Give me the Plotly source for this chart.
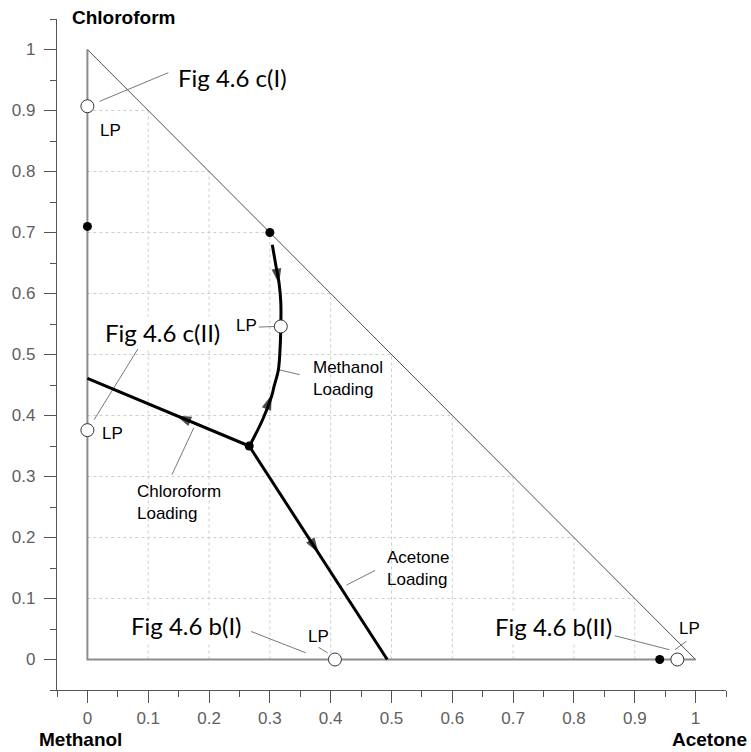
import plotly.graph_objects as go

# ---------------- data ----------------
tick_vals = [0, 0.1, 0.2, 0.3, 0.4, 0.5, 0.6, 0.7, 0.8, 0.9, 1.0]
tick_text = ["0", "0.1", "0.2", "0.3", "0.4", "0.5", "0.6", "0.7", "0.8", "0.9", "1"]
minor_vals = [-0.05, 0.05, 0.15, 0.25, 0.35, 0.45, 0.55, 0.65, 0.75, 0.85, 0.95, 1.05]
grid_vals = [0.1, 0.2, 0.3, 0.4, 0.5, 0.6, 0.7, 0.8, 0.9]

tri_x = [0, 1, 0]
tri_y = [0, 0, 1]

chloro_x = [0.266, 0.0]
chloro_y = [0.350, 0.461]
acetone_x = [0.266, 0.493]
acetone_y = [0.350, 0.0]
methanol_x = [0.304, 0.310, 0.315, 0.318, 0.318, 0.317, 0.314, 0.307, 0.303, 0.288, 0.266]
methanol_y = [0.680, 0.645, 0.618, 0.585, 0.546, 0.514, 0.475, 0.448, 0.432, 0.393, 0.349]

# arrow heads: (from point, to point) giving direction
arrows = [
    ((0.170, 0.390), (0.146, 0.400)),
    ((0.360, 0.206), (0.380, 0.175)),
    ((0.310, 0.645), (0.315, 0.616)),
    ((0.288, 0.393), (0.303, 0.434)),
]

filled_x = [0.0, 0.300, 0.266, 0.941]
filled_y = [0.710, 0.700, 0.350, 0.0]
open_x = [0.0, 0.0, 0.318, 0.407, 0.970]
open_y = [0.907, 0.376, 0.546, 0.0, 0.0]

fig_labels = [
    ("Fig 4.6 c(I)", 0.146, 0.954),
    ("Fig 4.6 c(II)", 0.026, 0.536),
    ("Fig 4.6 b(I)", 0.069, 0.056),
    ("Fig 4.6 b(II)", 0.667, 0.054),
]
small_labels = [
    ("LP", 0.018, 0.867, "left"),
    ("LP", 0.021, 0.370, "left"),
    ("LP", 0.282, 0.548, "right"),
    ("LP", 0.359, 0.038, "left"),
    ("LP", 0.970, 0.051, "left"),
    ("Methanol<br>Loading", 0.367, 0.461, "left"),
    ("Chloroform<br>Loading", 0.079, 0.257, "left"),
    ("Acetone<br>Loading", 0.489, 0.149, "left"),
]
leaders = [
    ((0.020, 0.915), (0.133, 0.962)),
    ((0.011, 0.393), (0.083, 0.509)),
    ((0.282, 0.545), (0.310, 0.546)),
    ((0.315, 0.475), (0.349, 0.467)),
    ((0.139, 0.303), (0.175, 0.380)),
    ((0.426, 0.122), (0.473, 0.146)),
    ((0.269, 0.046), (0.359, 0.011)),
    ((0.380, 0.020), (0.395, 0.011)),
    ((0.867, 0.039), (0.957, 0.016)),
    ((0.966, 0.016), (0.985, 0.030)),
]
corner_titles = [
    ("Chloroform", 0.0194, 1.0015, "left"),
    ("Methanol", -0.0298, -0.0745, "left"),
    ("Acetone", 1.034, -0.0745, "right"),
]

fig = go.Figure()

# grid clipped to triangle
gx, gy = [], []
for v in grid_vals:
    gx += [v, v, None]
    gy += [0, 1 - v, None]
    gx += [0, 1 - v, None]
    gy += [v, v, None]
fig.add_trace(go.Scatter(x=gx, y=gy, mode="lines",
                         line=dict(color="#cdcdcd", width=1, dash="dot"),
                         hoverinfo="skip", showlegend=False))

# triangle edges
fig.add_trace(go.Scatter(x=[tri_x[2], tri_x[0], tri_x[1]], y=[tri_y[2], tri_y[0], tri_y[1]],
                         mode="lines", line=dict(color="#8c8c8c", width=2),
                         showlegend=False, hoverinfo="skip"))
fig.add_trace(go.Scatter(x=[tri_x[1], tri_x[2]], y=[tri_y[1], tri_y[2]],
                         mode="lines", line=dict(color="#505050", width=1),
                         showlegend=False, hoverinfo="skip"))

# leader lines
lx, ly = [], []
for (a, b) in leaders:
    lx += [a[0], b[0], None]
    ly += [a[1], b[1], None]
fig.add_trace(go.Scatter(x=lx, y=ly, mode="lines", line=dict(color="#555555", width=0.8),
                         showlegend=False, hoverinfo="skip"))

# loading paths
for xs, ys, shape in [(chloro_x, chloro_y, "linear"), (acetone_x, acetone_y, "linear"),
                      (methanol_x, methanol_y, "spline")]:
    fig.add_trace(go.Scatter(x=xs, y=ys, mode="lines",
                             line=dict(color="black", width=3, shape=shape),
                             showlegend=False, hoverinfo="skip"))

for (a, b) in arrows:
    fig.add_trace(go.Scatter(x=[a[0], b[0]], y=[a[1], b[1]], mode="markers",
                             marker=dict(symbol="arrow", size=[0, 16], color="black",
                                         angleref="previous", line=dict(width=0)),
                             showlegend=False, hoverinfo="skip"))

fig.add_trace(go.Scatter(x=filled_x, y=filled_y, mode="markers",
                         marker=dict(color="black", size=9, line=dict(width=0)),
                         showlegend=False, hoverinfo="skip"))
fig.add_trace(go.Scatter(x=open_x, y=open_y, mode="markers",
                         marker=dict(color="white", size=13, line=dict(color="#333333", width=1)),
                         showlegend=False, hoverinfo="skip"))

annotations = []
for t, x, y in fig_labels:
    annotations.append(dict(text=t, x=x, y=y, xref="x", yref="y", xanchor="left",
                            yanchor="middle", showarrow=False, bgcolor="white",
                            font=dict(family="Lato", size=24, color="black")))
for t, x, y, xa in small_labels:
    annotations.append(dict(text=t, x=x, y=y, xref="x", yref="y", xanchor=xa,
                            yanchor="middle", showarrow=False, align="left",
                            font=dict(family="Liberation Sans", size=17, color="black")))
for t, x, y, xa in corner_titles:
    annotations.append(dict(text="<b>" + t + "</b>", x=x, y=y, xref="paper", yref="paper",
                            xanchor=xa, yanchor="middle", showarrow=False,
                            font=dict(family="Liberation Sans", size=19, color="black")))

axis_common = dict(
    tickmode="array", tickvals=tick_vals, ticktext=tick_text,
    ticks="outside", ticklen=12, tickwidth=1, tickcolor="#555555",
    showline=True, linecolor="#555555", linewidth=1.2,
    showgrid=False, zeroline=False,
    tickfont=dict(family="Liberation Sans", size=17, color="#606060"),
    minor=dict(ticks="outside", ticklen=6, tickwidth=1, tickcolor="#555555",
               tickvals=minor_vals, showgrid=False),
    range=[-0.05, 1.05], fixedrange=True,
)
fig.update_layout(
    width=751, height=752,
    margin=dict(l=55, r=25, t=19, b=62),
    paper_bgcolor="white", plot_bgcolor="white",
    xaxis=dict(**axis_common),
    yaxis=dict(**axis_common, ticklabelstandoff=5),
    annotations=annotations,
    showlegend=False,
    hovermode=False,
)
fig.write_html("out.html", config={"displayModeBar": False},
               post_script="document.body.style.margin='0px';")
